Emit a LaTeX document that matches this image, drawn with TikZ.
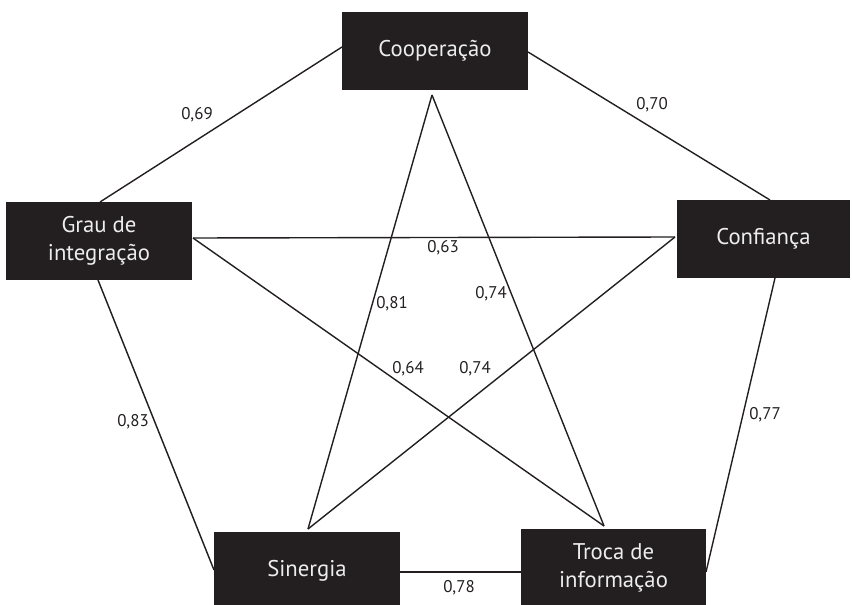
\documentclass[tikz,border=0pt]{standalone}
\usepackage{fontspec}
\setmainfont{PT Sans}
\definecolor{boxblack}{HTML}{231F20}
\definecolor{boxtext}{HTML}{EDEDED}
\begin{document}
\begin{tikzpicture}[x=1bp,y=-1bp,
  box/.style={fill=boxblack, draw=none, text=boxtext, inner sep=0pt,
    minimum height=78bp, align=center,
    font=\fontsize{22.8}{28}\selectfont},
  edge/.style={draw=boxblack, line width=1.4bp},
  val/.style={font=\fontsize{17}{20}\selectfont, text=boxblack, inner sep=0pt}]
\useasboundingbox (0,0) rectangle (852,605);
% boxes
\node[box, minimum width=186bp] (coop) at (435,51) {Cooperação};
\node[box, minimum width=186bp] (grau) at (99,241) {Grau de\\integração};
\node[box, minimum width=173bp] (conf) at (763.5,239) {Confiança};
\node[box, minimum width=186bp] (sin) at (307,571) {Sinergia};
\node[box, minimum width=185bp] (troca) at (613.5,568) {Troca de\\informação};
% attachment points of the outer pentagon
\coordinate (coopW) at (342,47);
\coordinate (coopE) at (528,52);
\coordinate (grauN) at (100,202);
\coordinate (grauS) at (98,280);
\coordinate (confN) at (770,200);
\coordinate (confS) at (775,278);
\coordinate (sinW) at (214,570);
\coordinate (sinE) at (400,572);
\coordinate (trocaW) at (521,572);
\coordinate (trocaE) at (706,572);
% star points
\coordinate (pA) at (432,95);
\coordinate (pB) at (193,238);
\coordinate (pC) at (675,237);
\coordinate (pD) at (308,529);
\coordinate (pE) at (604,526);
% outer pentagon
\draw[edge] (grauN) -- (coopW);
\draw[edge] (coopE) -- (confN);
\draw[edge] (grauS) -- (sinW);
\draw[edge] (confS) -- (trocaE);
\draw[edge] (sinE) -- (trocaW);
% star
\draw[edge] (pA) -- (pD);
\draw[edge] (pA) -- (pE);
\draw[edge] (pB) -- (pC);
\draw[edge] (pB) -- (pE);
\draw[edge] (pC) -- (pD);
% values
\node[val] (v69) at (197,115) {0,69};
\node[val] (v70) at (652,105) {0,70};
\node[val] (v63) at (443,248) {0,63};
\node[val] (v81) at (392,304) {0,81};
\node[val] (v74a) at (491,294) {0,74};
\node[val] (v64) at (408,369) {0,64};
\node[val] (v74b) at (475,369) {0,74};
\node[val] (v83) at (133,422) {0,83};
\node[val] (v77) at (765,415) {0,77};
\node[val] (v78) at (459,588) {0,78};
\end{tikzpicture}
\end{document}
